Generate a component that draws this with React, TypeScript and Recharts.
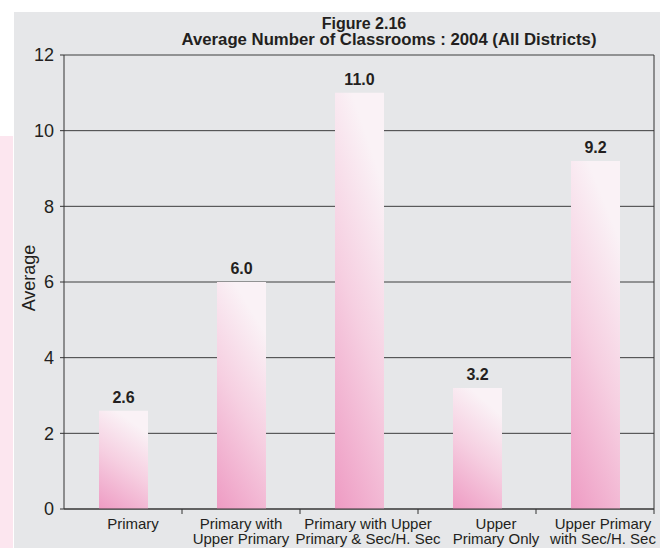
import { BarChart, Bar, XAxis, YAxis, CartesianGrid, LabelList } from "recharts";

const categories = [
  ["Primary"],
  ["Primary with", "Upper Primary"],
  ["Primary with Upper", "Primary & Sec/H. Sec"],
  ["Upper", "Primary Only"],
  ["Upper Primary", "with Sec/H. Sec"],
];
const averages = [2.6, 6.0, 11.0, 3.2, 9.2];
const yTicks = [0, 2, 4, 6, 8, 10, 12];

const data = categories.map((lines, i) => ({
  name: lines.join(" "),
  lines,
  value: averages[i],
}));

const FONT = "'Liberation Sans', Arial, sans-serif";
const INK = "#231f20";
const BAND = 118;
// Excel nudged some category labels sideways
const LABEL_DX = [10, 0, 9, 19, 8];

function CategoryTick(props: any) {
  const { x, y, payload, index } = props;
  const i = payload.index ?? index;
  const lines: string[] = data[i]?.lines ?? [payload.value];
  const top = y - 8;
  return (
    <g>
      <line x1={x + BAND / 2} y1={top} x2={x + BAND / 2} y2={top + 5} stroke="#333" />
      <text
        x={x + LABEL_DX[i]}
        y={top + 20}
        textAnchor="middle"
        fontFamily={FONT}
        fontSize={15}
        fill={INK}
      >
        {lines.map((l, k) => (
          <tspan key={k} x={x + LABEL_DX[i]} dy={k === 0 ? 0 : 14.5}>
            {l}
          </tspan>
        ))}
      </text>
    </g>
  );
}

export default function App() {
  return (
    <div
      style={{
        position: "absolute",
        left: 0,
        top: 0,
        width: 660,
        height: 548,
        background: "#ffffff",
        overflow: "hidden",
      }}
    >
      <div
        style={{
          position: "absolute",
          left: 14,
          top: 12,
          width: 646,
          height: 536,
          background: "#e6e7e9",
        }}
      />
      <div
        style={{
          position: "absolute",
          left: 0,
          top: 136,
          width: 13,
          height: 412,
          background: "#fce6ef",
        }}
      />
      <div style={{ position: "absolute", left: 0, top: 0 }}>
        <BarChart
          width={660}
          height={548}
          data={data}
          margin={{ top: 55, right: 5, bottom: 0, left: 14 }}
        >
          <defs>
            <linearGradient id="pinkFill" x1="0" y1="1" x2="0.35" y2="0">
              <stop offset="0%" stopColor="#ee9bc3" />
              <stop offset="55%" stopColor="#f6cfe1" />
              <stop offset="100%" stopColor="#faf2f6" />
            </linearGradient>
          </defs>
          <CartesianGrid vertical={false} stroke="#2b2b2b" strokeOpacity={0.9} />
          <XAxis
            dataKey="name"
            height={39}
            interval={0}
            axisLine={{ stroke: "#333" }}
            tickLine={false}
            tick={<CategoryTick />}
          />
          <YAxis
            domain={[0, 12]}
            ticks={yTicks}
            width={50}
            tickSize={4}
            tickMargin={6}
            axisLine={{ stroke: "#333" }}
            tickLine={{ stroke: "#333" }}
            tick={{ fontFamily: FONT, fontSize: 18, fill: INK }}
          />
          <YAxis
            yAxisId="frame"
            orientation="right"
            width={1}
            tick={false}
            tickLine={false}
            axisLine={{ stroke: "#333" }}
          />
          <Bar dataKey="value" fill="url(#pinkFill)" barSize={49} isAnimationActive={false}>
            <LabelList
              dataKey="value"
              position="top"
              offset={8}
              formatter={(v: any) => Number(v).toFixed(1)}
              style={{ fontFamily: FONT, fontSize: 16, fontWeight: "bold", fill: INK }}
            />
          </Bar>
        </BarChart>
      </div>
      <svg
        width={660}
        height={548}
        style={{ position: "absolute", left: 0, top: 0, pointerEvents: "none" }}
      >
        <text x={364} y={29} textAnchor="middle" fontFamily={FONT} fontSize={16} fontWeight="bold" fill={INK}>
          Figure 2.16
        </text>
        <text
          x={389}
          y={45}
          textAnchor="middle"
          fontFamily={FONT}
          fontSize={16}
          fontWeight="bold"
          fill={INK}
          textLength={415}
          lengthAdjust="spacingAndGlyphs"
        >
          Average Number of Classrooms : 2004  (All Districts)
        </text>
        <text
          x={29}
          y={278}
          transform="rotate(-90 29 278)"
          textAnchor="middle"
          dominantBaseline="central"
          fontFamily={FONT}
          fontSize={18}
          fill={INK}
        >
          Average
        </text>
      </svg>
    </div>
  );
}
